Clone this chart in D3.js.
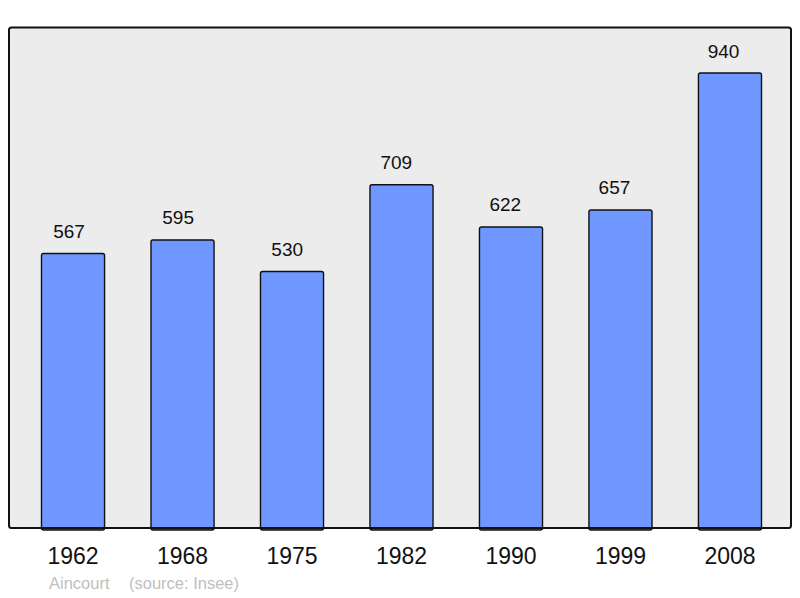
<!DOCTYPE html>
<html>
<head>
<meta charset="utf-8">
<script src="https://cdn.jsdelivr.net/npm/d3@7"></script>
<style>
  body { margin: 0; background: #fff; }
  text { font-family: "Liberation Sans", Arial, sans-serif; }
</style>
</head>
<body>
<div id="chart"></div>
<script>
// Data
var years = ["1962", "1968", "1975", "1982", "1990", "1999", "2008"];
var population = [567, 595, 530, 709, 622, 657, 940];
var placeName = "Aincourt";
var sourceText = "(source: Insee)";

// SVG area
var svgWidth = 800;
var svgHeight = 598;

var svg = d3.select("#chart")
    .append("svg")
    .attr("width", svgWidth)
    .attr("height", svgHeight);

// Frame background
svg.append("rect")
    .attr("x", 9)
    .attr("y", 27.5)
    .attr("width", 782)
    .attr("height", 500.5)
    .attr("rx", 2.5)
    .attr("fill", "#ececec");

// Scales
var xScale = d3.scaleBand()
    .domain(years)
    .range([41.5, 761.5])
    .paddingInner(0.424)
    .paddingOuter(0);

var yScale = d3.scaleLinear()
    .domain([0, d3.max(population)])
    .range([528, 73]);

var rows = years.map(function(y, i) {
    return { year: y, value: population[i] };
});

function center(d) {
    return xScale(d.year) + xScale.bandwidth() / 2;
}

// Bars
svg.selectAll(".bar")
    .data(rows)
    .enter()
    .append("rect")
    .attr("class", "bar")
    .attr("x", d => xScale(d.year))
    .attr("y", d => yScale(d.value))
    .attr("width", xScale.bandwidth())
    .attr("height", d => yScale(0) - yScale(d.value) + 2)
    .attr("rx", 2)
    .attr("fill", "#7097ff")
    .attr("stroke", "#111")
    .attr("stroke-width", 1.4);

// frame border on top of bar bottoms
svg.append("rect")
    .attr("x", 9)
    .attr("y", 27.5)
    .attr("width", 782)
    .attr("height", 500.5)
    .attr("rx", 2.5)
    .attr("fill", "none")
    .attr("stroke", "#111")
    .attr("stroke-width", 2);

// Value labels (sit slightly left of the bar centre in the original)
svg.selectAll(".val")
    .data(rows)
    .enter()
    .append("text")
    .attr("class", "val")
    .attr("x", d => center(d) * 0.9962 - 3.7)
    .attr("y", d => yScale(d.value) - 15.5)
    .attr("text-anchor", "middle")
    .style("font-size", "19px")
    .attr("fill", "#111")
    .text(d => d.value);

// Year labels
svg.selectAll(".year")
    .data(rows)
    .enter()
    .append("text")
    .attr("class", "year")
    .attr("x", d => center(d))
    .attr("y", 564)
    .attr("text-anchor", "middle")
    .style("font-size", "23px")
    .attr("fill", "#111")
    .text(d => d.year);

// Footer
svg.append("text")
    .attr("x", 49)
    .attr("y", 589)
    .style("font-size", "16.5px")
    .attr("fill", "#c0c0c0")
    .text(placeName);

svg.append("text")
    .attr("x", 129)
    .attr("y", 589)
    .style("font-size", "16.5px")
    .attr("fill", "#c0c0c0")
    .text(sourceText);
</script>
</body>
</html>
